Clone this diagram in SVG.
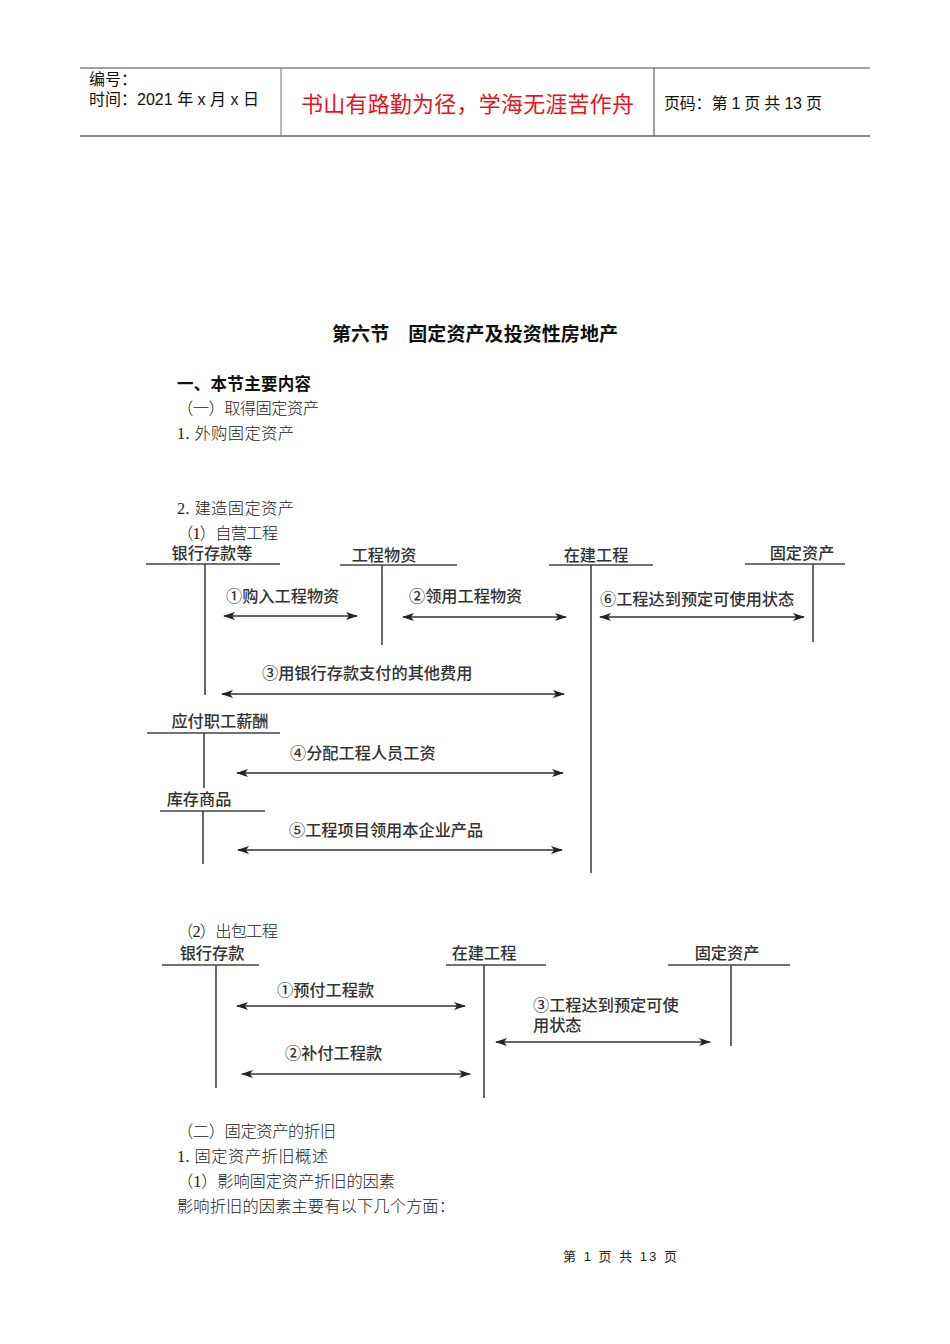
<svg xmlns="http://www.w3.org/2000/svg" width="950" height="1344" viewBox="0 0 950 1344">
  <style>
    .page { fill: #ffffff; }
    .hdr { font-family: "Liberation Sans", "Noto Sans CJK SC", sans-serif; font-size: 16px; fill: #111; }
    .motto { font-family: "Liberation Sans", "Noto Sans CJK SC", sans-serif; font-size: 22px; fill: #e8141b; }
    .body { font-family: "Liberation Serif", "Noto Sans CJK SC", serif; font-size: 16.3px; fill: #222; font-weight: 300; }
    .bold { font-family: "Liberation Serif", "Noto Sans CJK SC", serif; font-weight: 700; fill: #111; }
    .lbl { font-family: "Liberation Serif", "Noto Sans CJK SC", serif; font-size: 16.2px; fill: #333; font-weight: 500; }
    .acct { stroke: #444; stroke-width: 1.6; fill: none; }
    .flow { stroke: #333; stroke-width: 1.6; fill: none; marker-start: url(#head); marker-end: url(#head); }
    .foot { font-family: "Liberation Sans", "Noto Sans CJK SC", sans-serif; font-size: 13px; fill: #222; }
  </style>
  <defs>
    <marker id="head" viewBox="0 0 12 8" refX="11" refY="4" markerWidth="12" markerHeight="8" markerUnits="userSpaceOnUse" orient="auto-start-reverse">
      <path d="M0,0 L12,4 L0,8 L3,4 Z" fill="#222"/>
    </marker>
  </defs>

  <rect class="page" x="0" y="0" width="950" height="1344"/>

  <!-- page header -->
  <g id="header">
    <line x1="80" y1="68" x2="870" y2="68" stroke="#444" stroke-width="1"/>
    <line x1="80" y1="136" x2="870" y2="136" stroke="#888" stroke-width="2"/>
    <line x1="281" y1="68" x2="281" y2="136" stroke="#777" stroke-width="1"/>
    <line x1="654" y1="68" x2="654" y2="136" stroke="#444" stroke-width="1"/>
    <text class="hdr" x="89" y="85">编号：</text>
    <text class="hdr" x="89" y="105" textLength="170">时间：2021 年 x 月 x 日</text>
    <text class="motto" x="301" y="112" textLength="333">书山有路勤为径，学海无涯苦作舟</text>
    <text class="hdr" x="664" y="109" textLength="158">页码：第 1 页  共 13 页</text>
  </g>

  <!-- headings and body text -->
  <g id="text-top">
    <text class="bold" x="332" y="341" font-size="19" textLength="286">第六节　固定资产及投资性房地产</text>
    <text class="bold" x="177" y="390" font-size="16.5" textLength="134">一、本节主要内容</text>
    <text class="body" x="177" y="414" textLength="142">（一）取得固定资产</text>
    <text class="body" x="177" y="439" textLength="117">1. 外购固定资产</text>
    <text class="body" x="177" y="514" textLength="117">2. 建造固定资产</text>
    <text class="body" x="177" y="539" textLength="101">（1）自营工程</text>
  </g>

  <!-- self-built project: T accounts -->
  <g id="acct-bank">
    <text class="lbl" x="212" y="559" text-anchor="middle">银行存款等</text>
    <path class="acct" d="M146,564 H280 M205,564 V695"/>
  </g>
  <g id="acct-materials">
    <text class="lbl" x="384" y="561" text-anchor="middle">工程物资</text>
    <path class="acct" d="M340,565 H457 M382,565 V645"/>
  </g>
  <g id="acct-cip">
    <text class="lbl" x="596" y="561" text-anchor="middle">在建工程</text>
    <path class="acct" d="M549,565 H653 M591,565 V873"/>
  </g>
  <g id="acct-fixed">
    <text class="lbl" x="802" y="559" text-anchor="middle">固定资产</text>
    <path class="acct" d="M745,564 H845 M813,564 V642"/>
  </g>
  <g id="acct-payroll">
    <text class="lbl" x="220" y="727" text-anchor="middle">应付职工薪酬</text>
    <path class="acct" d="M147,733 H280 M204,733 V788"/>
  </g>
  <g id="acct-goods">
    <text class="lbl" x="199" y="805" text-anchor="middle">库存商品</text>
    <path class="acct" d="M160,811 H265 M203,811 V864"/>
  </g>

  <!-- self-built project: entries -->
  <g id="connectors-1">
    <line class="flow" x1="224" y1="616" x2="357" y2="616"/>
    <text class="lbl" x="226" y="602">①购入工程物资</text>
    <line class="flow" x1="403" y1="617" x2="566" y2="617"/>
    <text class="lbl" x="409" y="602">②领用工程物资</text>
    <line class="flow" x1="600" y1="617" x2="804" y2="617"/>
    <text class="lbl" x="600" y="605">⑥工程达到预定可使用状态</text>
    <line class="flow" x1="222" y1="694" x2="564" y2="694"/>
    <text class="lbl" x="262" y="679">③用银行存款支付的其他费用</text>
    <line class="flow" x1="237" y1="773" x2="563" y2="773"/>
    <text class="lbl" x="290" y="759">④分配工程人员工资</text>
    <line class="flow" x1="238" y1="850" x2="562" y2="850"/>
    <text class="lbl" x="289" y="836">⑤工程项目领用本企业产品</text>
  </g>

  <text class="body" x="177" y="937" textLength="101">（2）出包工程</text>

  <!-- contracted project: T accounts -->
  <g id="acct2-bank">
    <text class="lbl" x="212" y="959" text-anchor="middle">银行存款</text>
    <path class="acct" d="M162,965 H259 M216,965 V1088"/>
  </g>
  <g id="acct2-cip">
    <text class="lbl" x="484" y="959" text-anchor="middle">在建工程</text>
    <path class="acct" d="M446,965 H546 M484,965 V1098"/>
  </g>
  <g id="acct2-fixed">
    <text class="lbl" x="727" y="959" text-anchor="middle">固定资产</text>
    <path class="acct" d="M668,965 H790 M731,965 V1046"/>
  </g>

  <!-- contracted project: entries -->
  <g id="connectors-2">
    <line class="flow" x1="237" y1="1006" x2="465" y2="1006"/>
    <text class="lbl" x="277" y="996">①预付工程款</text>
    <line class="flow" x1="242" y1="1074" x2="470" y2="1074"/>
    <text class="lbl" x="285" y="1059">②补付工程款</text>
    <line class="flow" x1="496" y1="1042" x2="710" y2="1042"/>
    <text class="lbl" x="533" y="1011">③工程达到预定可使</text>
    <text class="lbl" x="533" y="1031">用状态</text>
  </g>

  <g id="text-bottom">
    <text class="body" x="177" y="1137" textLength="159">（二）固定资产的折旧</text>
    <text class="body" x="177" y="1162" textLength="151">1. 固定资产折旧概述</text>
    <text class="body" x="177" y="1187" textLength="218">（1）影响固定资产折旧的因素</text>
    <text class="body" x="177" y="1212" textLength="278">影响折旧的因素主要有以下几个方面：</text>
  </g>

  <text class="foot" x="563" y="1261" textLength="114" xml:space="preserve">第 1 页 共 13 页</text>
</svg>
